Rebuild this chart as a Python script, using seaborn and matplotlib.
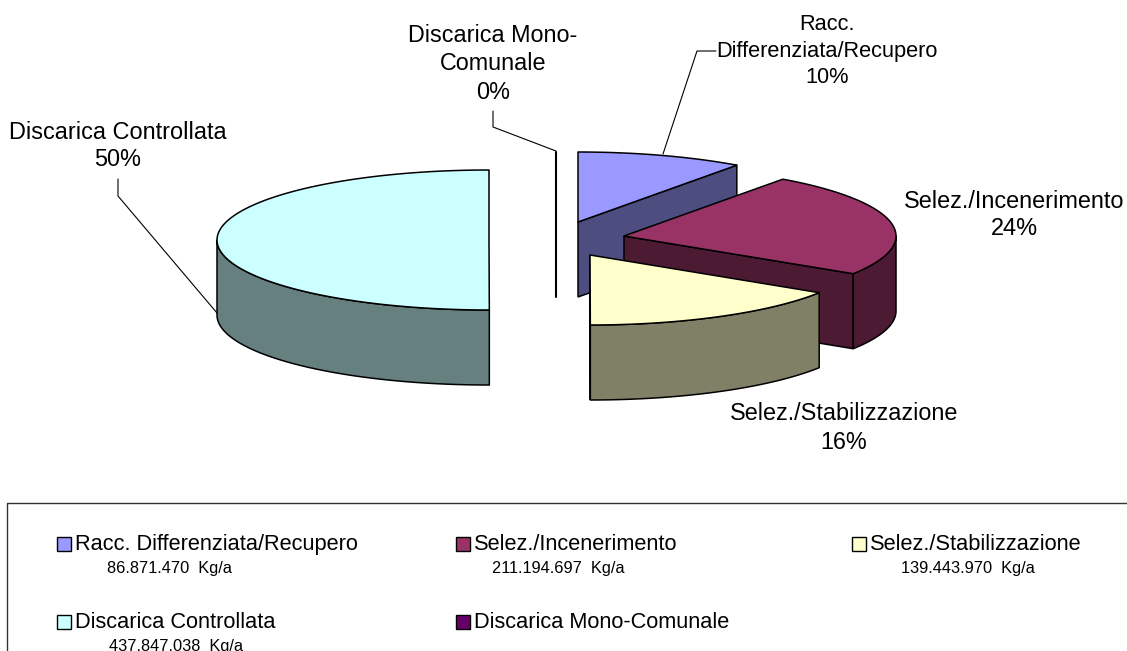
import numpy as np
import matplotlib
matplotlib.use("Agg")
import matplotlib.pyplot as plt
from matplotlib.patches import Polygon, Rectangle
import seaborn as sns

labels = ["Racc. Differenziata/Recupero", "Selez./Incenerimento", "Selez./Stabilizzazione",
          "Discarica Controllata", "Discarica Mono-Comunale"]
values = [86871470, 211194697, 139443970, 437847038, 0]
colors = ["#9999FF", "#993366", "#FFFFCC", "#CCFFFF", "#660066"]
callouts = ["Racc.\nDifferenziata/Recupero", "Selez./Incenerimento", "Selez./Stabilizzazione",
            "Discarica Controllata", "Discarica Mono-\nComunale"]

# layout, all in pixels of the 1127x651 canvas
apex = [(578, 222), (624, 236), (590, 255), (489, 240), (556, 222)]
callout_pos = [(827, 51), (1014, 215), (844, 428), (118, 146), (493, 64)]
callout_size = [15.7, 16.9, 16.8, 16.9, 16.8]
leaders = [[(663, 154), (697, 51), (716, 51)], None, None,
           [(118, 179), (118, 196), (217, 313)],
           [(493, 111), (493, 127), (556, 151)]]
legend_pos = [(57, 537), (456, 537), (852, 537), (57, 615), (456, 615)]
value_x = [169, 558, 968, 176, None]
RX, RY, DEPTH = 272, 70, 75

sns.set_theme(style="white")
plt.rcParams["font.family"] = ["Liberation Sans", "DejaVu Sans"]
palette = sns.color_palette(colors)


def rim(cx, cy, a0, a1, n=120):
    t = np.radians(np.linspace(a0, a1, n))
    return np.column_stack([cx + RX * np.sin(t), cy - RY * np.cos(t)])


def draw_slice(ax, cx, cy, a0, a1, col):
    dark = tuple(c * 0.5 for c in col)
    edge = dict(edgecolor="black", linewidth=1.1, joinstyle="round")
    # cut faces that look towards the viewer
    for a in (a0, a1):
        if (a == a1 and 0 < a < 180 and a0 != a1) or (a == a0 and 180 < a <= 360):
            p = rim(cx, cy, a, a, 1)[0]
            ax.add_patch(Polygon([(cx, cy), p, (p[0], p[1] + DEPTH), (cx, cy + DEPTH)],
                                 facecolor=dark, lw=edge["linewidth"], edgecolor="black"))
    # outer wall, only the front half of the ellipse shows
    lo, hi = max(a0, 90), min(a1, 270)
    if hi > lo:
        arc = rim(cx, cy, lo, hi)
        wall = np.vstack([arc, (arc + [0, DEPTH])[::-1]])
        ax.add_patch(Polygon(wall, facecolor=dark, **edge))
    if a1 > a0:
        top = np.vstack([[(cx, cy)], rim(cx, cy, a0, a1)])
        ax.add_patch(Polygon(top, facecolor=col, **edge))


fig = plt.figure(figsize=(11.27, 6.51), dpi=100)
ax = fig.add_axes([0, 0, 1, 1])
ax.set_xlim(0, 1127)
ax.set_ylim(651, 0)
ax.axis("off")

total = sum(values)
angles = np.concatenate([[0], np.cumsum(values) / total * 360])
for i in range(len(values)):
    draw_slice(ax, apex[i][0], apex[i][1], angles[i], angles[i + 1], palette[i])

# mono-comunale has no width, it is just a heavier vertical line
ax.plot([apex[4][0]] * 2, [apex[4][1] - RY, apex[4][1] + DEPTH], color="black", lw=1.5)

for i, lab in enumerate(callouts):
    pct = round(values[i] / total * 100)
    ax.text(callout_pos[i][0], callout_pos[i][1], f"{lab}\n{pct}%", ha="center", va="center",
            fontsize=callout_size[i], color="black", linespacing=21.5 / callout_size[i],
            multialignment="center")
    if leaders[i]:
        xs, ys = zip(*leaders[i])
        ax.plot(xs, ys, color="black", lw=0.8)

# legend frame, runs off the canvas at right and bottom
ax.plot([1127, 7, 7], [503, 503, 651], color="#333333", lw=1.0)
for i, lab in enumerate(labels):
    x, y = legend_pos[i]
    ax.add_patch(Rectangle((x, y), 14, 14, facecolor=palette[i], edgecolor="black", linewidth=1.0))
    ax.text(x + 18, y + 7.5, lab, ha="left", va="center", fontsize=15.7, color="black")
    if values[i]:
        txt = f"{values[i]:,}".replace(",", ".") + "  Kg/a"
        ax.text(value_x[i], y + 31, txt, ha="center", va="center", fontsize=11.8, color="black")

fig.savefig("out.png", dpi=100)
